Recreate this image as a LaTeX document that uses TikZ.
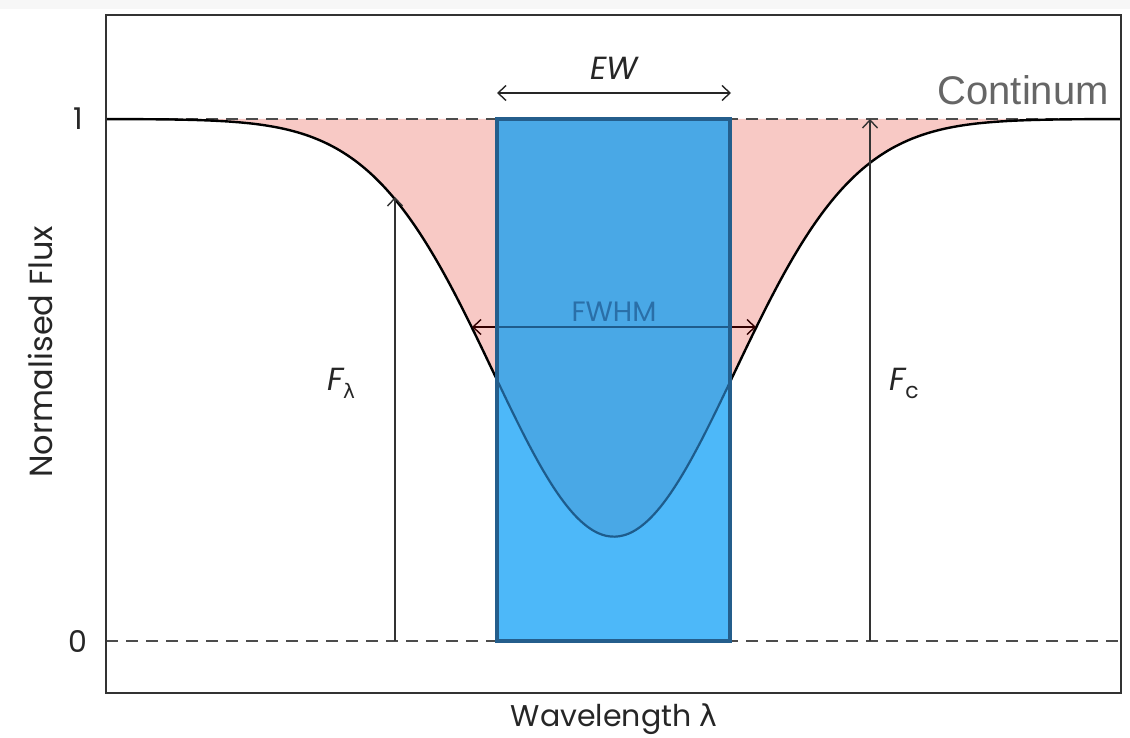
\documentclass[tikz,border=0pt]{standalone}
\usepackage{fontspec}
\setmainfont{Poppins}
\newfontfamily\contfont{Liberation Sans}
\newfontfamily\grk{DejaVu Sans}
\usetikzlibrary{arrows.meta}
\definecolor{pinkfill}{HTML}{F8C9C5}
\definecolor{bluelow}{HTML}{4DB8F9}
\definecolor{blueup}{HTML}{49A8E6}
\definecolor{blueedge}{HTML}{245E8C}
\definecolor{bluecurve}{HTML}{1E5C8C}
\definecolor{fwhmtext}{HTML}{2A6FA8}
\definecolor{axisgray}{HTML}{333333}
\definecolor{contgray}{HTML}{666666}
\tikzset{
  barb/.style={-{Straight Barb[length=8pt,width=15pt,line width=1.4pt]}},
  dbarb/.style={{Straight Barb[length=8pt,width=15pt,line width=1.4pt]}-{Straight Barb[length=8pt,width=15pt,line width=1.4pt]}},
  levelline/.style={draw=black!70, line width=1.4pt, dash pattern=on 12pt off 8pt},
  fluxarrow/.style={barb, draw=axisgray, line width=1.4pt},
  lbl/.style={font=\fontsize{30}{34}\selectfont, text=black!85, inner sep=0pt},
  flbl/.style={font=\fontsize{32}{36}\selectfont\itshape, text=black!85, inner sep=0pt},
}
\begin{document}
\begin{tikzpicture}[x=1pt,y=-1pt]
\useasboundingbox (0,0) rectangle (1130,738);
\fill[gray!6] (0,0) rectangle (1130,9);
% Gaussian: y = 641 - 522*(1 - 0.8 exp(-u^2/2)), x = 614 + 120.6 u
\def\gauss{plot[domain=-4.212:4.196, samples=240, smooth] ({614+120.6*\x}, {641-522*(1-0.8*exp(-\x*\x/2))})}
% pink absorbed area
\fill[pinkfill] \gauss -- (1120,119) -- (106,119) -- cycle;
% level lines
\coordinate (l1a) at (106,119); \coordinate (l1b) at (1120,119);
\coordinate (l0a) at (106,641); \coordinate (l0b) at (1120,641);
\draw[levelline] (l1a) -- (l1b);
\draw[levelline] (l0a) -- (l0b);
% curve
\draw[black, line width=2.4pt] \gauss;
% flux arrows
\coordinate (flb) at (395,641); \coordinate (flt) at (395,197);
\coordinate (fcb) at (870,641); \coordinate (fct) at (870,119);
\draw[fluxarrow] (flb) -- (flt);
\draw[fluxarrow] (fcb) -- (fct);
% FWHM arrow
\coordinate (fwl) at (472,327); \coordinate (fwr) at (756,327);
\draw[dbarb, draw=black!80!red, line width=1.4pt] (fwl) -- (fwr);
% EW rectangle
\fill[bluelow] (497,119) rectangle (730,641);
\begin{scope}
  \clip (497,119) rectangle (730,641);
  \fill[blueup] \gauss -- (1120,119) -- (106,119) -- cycle;
  \draw[bluecurve, line width=2.2pt] \gauss;
  \draw[bluecurve, line width=1.4pt] (fwl) -- (fwr);
\end{scope}
\node[draw=blueedge, line width=3.4pt, minimum width=233pt, minimum height=522pt, inner sep=0pt] (ew) at (613.5,380) {};
\node[font=\fontsize{28}{32}\selectfont, text=fwhmtext, inner sep=0pt] (fwhm) at (614,312) {FWHM};
% EW arrow
\coordinate (ewl) at (497,93); \coordinate (ewr) at (731,93);
\draw[dbarb, draw=black!85, line width=1.4pt] (ewl) -- (ewr);
\node[flbl] (ewt) at (614,68) {EW};
% labels
\node[flbl] (flam) at (341,383) {F\raisebox{-8pt}{\grk\fontsize{20}{22}\selectfont\upshape λ}};
\node[flbl] (fc) at (904,383) {F\raisebox{-8pt}{\fontsize{22}{24}\selectfont\upshape c}};
\node[font=\contfont\fontsize{40}{44}\selectfont, text=contgray, inner sep=0pt, anchor=east] (cont) at (1109,90) {Continum};
% frame
\draw[axisgray, line width=2pt] (106,15) rectangle (1121,693);
\node[lbl] (one) at (78,119) {1};
\node[lbl] (zero) at (78,641) {0};
\node[font=\fontsize{32}{36}\selectfont, text=black!85, inner sep=0pt, rotate=90] (ylab) at (40,352) {Normalised Flux};
\node[lbl, font=\fontsize{30}{34}\selectfont] (xlab) at (614,719) {Wavelength {\grk λ}};
\end{tikzpicture}
\end{document}
